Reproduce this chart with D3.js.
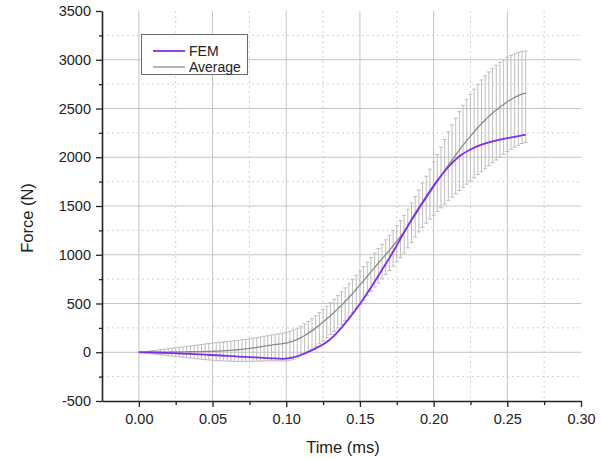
<!DOCTYPE html>
<html>
<head>
<meta charset="utf-8">
<script src="https://cdn.jsdelivr.net/npm/d3@7/dist/d3.min.js"></script>
<style>
  html, body { margin: 0; padding: 0; background: #fff; }
  svg { display: block; font-family: "Liberation Sans", Arial, Helvetica, sans-serif; }
</style>
</head>
<body>
<svg id="chart" width="605" height="461"></svg>
<script>
// Sample times (ms) shared by the averaged measurement and its error bars
const avgStep = 0.0025;
const avgTimes = d3.range(0, 106).map(i => +(i * avgStep).toFixed(4));

// Averaged measured force (N)
const avgForce = [
  0, 0, 0, 1, 1, 1, 2, 2, 2, 3,
  3, 4, 4, 5, 5, 6, 6, 7, 8, 9,
  10, 11, 13, 15, 17, 20, 23, 26, 30, 34,
  39, 44, 50, 56, 62, 68, 74, 79, 84, 89,
  94, 104, 117, 132, 150, 172, 196, 222, 250, 280,
  311, 343, 375, 410, 445, 482, 520, 561, 603, 646,
  690, 734, 779, 824, 870, 913, 957, 1001, 1045, 1092,
  1139, 1187, 1235, 1292, 1350, 1407, 1465, 1523, 1580, 1638,
  1695, 1752, 1808, 1864, 1920, 1972, 2023, 2074, 2125, 2171,
  2216, 2261, 2305, 2344, 2382, 2419, 2455, 2485, 2514, 2542,
  2570, 2592, 2613, 2632, 2648, 2658
];

// Upper error (N) above the average
const errUp = [
  0, 4, 9, 13, 17, 21, 26, 30, 34, 38,
  43, 47, 51, 55, 60, 64, 68, 72, 77, 81,
  85, 87, 89, 91, 93, 94, 95, 96, 97, 98,
  99, 100, 100, 101, 102, 102, 103, 104, 105, 106,
  108, 110, 112, 114, 116, 118, 120, 122, 124, 126,
  128, 130, 132, 134, 136, 138, 140, 141, 142, 143,
  144, 145, 146, 147, 148, 149, 150, 152, 154, 157,
  160, 164, 169, 175, 182, 190, 200, 212, 225, 240,
  257, 276, 296, 318, 340, 360, 378, 394, 408, 420,
  430, 438, 444, 449, 453, 456, 458, 459, 459, 458,
  456, 453, 449, 444, 438, 432
];

// Lower error (N) below the average
const errDown = [
  0, 4, 9, 14, 18, 23, 28, 32, 37, 41,
  46, 51, 55, 60, 65, 69, 74, 79, 83, 88,
  92, 96, 100, 104, 108, 112, 116, 120, 124, 128,
  132, 137, 142, 147, 152, 157, 162, 167, 172, 178,
  184, 186, 188, 189, 190, 191, 192, 192, 193, 193,
  194, 194, 195, 195, 196, 196, 197, 197, 198, 198,
  199, 199, 200, 200, 201, 202, 203, 204, 206, 209,
  212, 215, 218, 221, 224, 227, 230, 242, 256, 272,
  290, 308, 326, 344, 362, 380, 398, 415, 432, 447,
  460, 472, 483, 493, 501, 507, 511, 513, 513, 513,
  512, 511, 510, 509, 507, 505
];

// Finite element prediction: times (ms) and force (N)
const femTimes = [
  0, 0.0075, 0.015, 0.0225, 0.03, 0.0375, 0.045, 0.0525, 0.06, 0.0675,
  0.075, 0.0825, 0.09, 0.0975, 0.105, 0.1125, 0.12, 0.1275, 0.135, 0.1425,
  0.15, 0.1575, 0.165, 0.1725, 0.18, 0.1875, 0.195, 0.2025, 0.21, 0.2175,
  0.225, 0.2325, 0.24, 0.2475, 0.255, 0.2625
];
const femForce = [
  0, -2, -5, -9, -14, -19, -25, -31, -37, -44,
  -50, -56, -62, -67, -52, -12, 40, 105, 210, 345,
  495, 665, 845, 1030, 1230, 1420, 1595, 1760, 1900, 2010,
  2080, 2130, 2162, 2188, 2210, 2233
];

// Axis ticks
const xMajorTicks = [0, 0.05, 0.10, 0.15, 0.20, 0.25, 0.30];
const xMinorTicks = [0.025, 0.075, 0.125, 0.175, 0.225, 0.275];
const yMajorTicks = [-500, 0, 500, 1000, 1500, 2000, 2500, 3000, 3500];
const yMinorTicks = [-250, 250, 750, 1250, 1750, 2250, 2750, 3250];

const seriesNames = ["FEM", "Average"];
const colors = { fem: "#7f2fe6", avg: "#8a8a8a", err: "#bdbdbd" };

const svg = d3.select("#chart");
const plotLeft = 102, plotRight = 581, plotTop = 11, plotBottom = 401;

const x = d3.scaleLinear().domain([-0.025, 0.30]).range([plotLeft, plotRight]);
const y = d3.scaleLinear().domain([-500, 3500]).range([plotBottom, plotTop]);

// Grid: solid at major ticks, dotted at minor ticks
const grid = svg.append("g");
xMajorTicks.filter(t => t < 0.30).forEach(t => {
  grid.append("line").attr("x1", x(t)).attr("x2", x(t)).attr("y1", plotTop).attr("y2", plotBottom)
    .attr("stroke", "#c4c4c4").attr("stroke-width", 1);
});
xMinorTicks.forEach(t => {
  grid.append("line").attr("x1", x(t)).attr("x2", x(t)).attr("y1", plotTop).attr("y2", plotBottom)
    .attr("stroke", "#d2d2d2").attr("stroke-width", 1).attr("stroke-dasharray", "2,3");
});
yMajorTicks.filter(v => v > -500 && v < 3500).forEach(v => {
  grid.append("line").attr("x1", plotLeft).attr("x2", plotRight).attr("y1", y(v)).attr("y2", y(v))
    .attr("stroke", "#c4c4c4").attr("stroke-width", 1);
});
yMinorTicks.forEach(v => {
  grid.append("line").attr("x1", plotLeft).attr("x2", plotRight).attr("y1", y(v)).attr("y2", y(v))
    .attr("stroke", "#d2d2d2").attr("stroke-width", 1).attr("stroke-dasharray", "2,3");
});

// Error bars of the averaged measurement
const avgData = avgTimes.map((t, i) => ({ t, v: avgForce[i], up: errUp[i], down: errDown[i] }));
const errG = svg.append("g").attr("stroke", colors.err).attr("stroke-width", 1);
const capHalf = 2;
avgData.forEach(d => {
  const xp = x(d.t);
  const yHi = y(d.v + d.up), yLo = y(d.v - d.down);
  errG.append("line").attr("x1", xp).attr("x2", xp).attr("y1", yLo).attr("y2", yHi);
  errG.append("line").attr("x1", xp - capHalf).attr("x2", xp + capHalf).attr("y1", yHi).attr("y2", yHi);
  errG.append("line").attr("x1", xp - capHalf).attr("x2", xp + capHalf).attr("y1", yLo).attr("y2", yLo);
});

// Average curve
svg.append("path")
  .datum(avgData)
  .attr("fill", "none").attr("stroke", colors.avg).attr("stroke-width", 1.3)
  .attr("d", d3.line().x(d => x(d.t)).y(d => y(d.v)).curve(d3.curveMonotoneX));

// FEM curve
const femData = femTimes.map((t, i) => ({ t, v: femForce[i] }));
svg.append("path")
  .datum(femData)
  .attr("fill", "none").attr("stroke", colors.fem).attr("stroke-width", 1.8)
  .attr("d", d3.line().x(d => x(d.t)).y(d => y(d.v)).curve(d3.curveMonotoneX));

// Axes
const fmtX = d3.format(".2f");
const fmtY = d => (d < 0 ? "-" + Math.abs(d) : String(d));
svg.append("g").attr("transform", `translate(0,${plotBottom})`)
  .call(d3.axisBottom(x).tickValues(xMajorTicks).tickFormat(fmtX).tickSize(6).tickPadding(7).tickSizeOuter(0));
svg.append("g").attr("transform", `translate(0,${plotBottom})`)
  .call(d3.axisBottom(x).tickValues(xMinorTicks).tickFormat("").tickSize(4).tickSizeOuter(0))
  .select(".domain").remove();

svg.append("g").attr("transform", `translate(${plotLeft},0)`)
  .call(d3.axisLeft(y).tickValues(yMajorTicks).tickFormat(fmtY).tickSize(6).tickPadding(5).tickSizeOuter(0));
svg.append("g").attr("transform", `translate(${plotLeft},0)`)
  .call(d3.axisLeft(y).tickValues(yMinorTicks).tickFormat("").tickSize(3).tickSizeOuter(0))
  .select(".domain").remove();

svg.selectAll(".domain").attr("stroke", "#222").attr("stroke-width", 1.6);
svg.selectAll(".tick line").attr("stroke", "#222").attr("stroke-width", 1.3);
svg.selectAll(".tick text").attr("fill", "#222").style("font-size", "14.5px")
  .style("font-family", "'Liberation Sans', Arial, sans-serif");

// Axis titles
svg.append("text")
  .attr("x", 343).attr("y", 453).attr("text-anchor", "middle")
  .style("font-size", "16.5px").attr("fill", "#222").text("Time (ms)");
svg.append("text")
  .attr("transform", "translate(33,218) rotate(-90)").attr("text-anchor", "middle")
  .style("font-size", "16.5px").attr("fill", "#222").text("Force (N)");

// Legend
const lg = svg.append("g");
lg.append("rect").attr("x", 141.5).attr("y", 34.5).attr("width", 106).attr("height", 40)
  .attr("fill", "#fff").attr("stroke", "#6a6a6a").attr("stroke-width", 1);
const legendColors = [colors.fem, colors.avg];
const legendWidths = [1.8, 1.3];
seriesNames.forEach((name, i) => {
  const ly = 51 + i * 16;
  lg.append("line").attr("x1", 153).attr("x2", 185).attr("y1", ly).attr("y2", ly)
    .attr("stroke", legendColors[i]).attr("stroke-width", legendWidths[i]);
  lg.append("text").attr("x", 189).attr("y", ly + 5)
    .style("font-size", "14px").attr("fill", "#222").text(name);
});
</script>
</body>
</html>
